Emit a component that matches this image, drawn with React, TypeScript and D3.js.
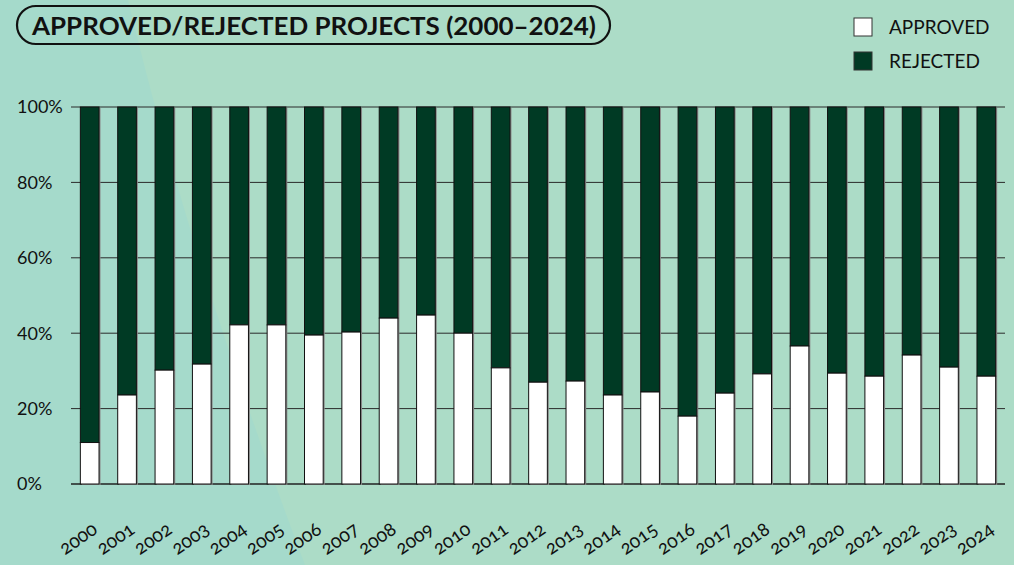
import React, { useEffect, useRef } from 'react';
import * as d3 from 'd3';

const YEARS = ['2000', '2001', '2002', '2003', '2004', '2005', '2006', '2007', '2008', '2009', '2010', '2011', '2012',
  '2013', '2014', '2015', '2016', '2017', '2018', '2019', '2020', '2021', '2022', '2023', '2024'];

// share of approved projects, %
const APPROVED = [11, 23.6, 30.2, 31.8, 42.2, 42.2, 39.5, 40.3, 44, 44.8, 40, 30.8, 27,
  27.3, 23.6, 24.4, 18, 24.1, 29.2, 36.6, 29.4, 28.6, 34.2, 31, 28.6];

const Y_TICKS = [0, 20, 40, 60, 80, 100];

const FONT = 'Lato, "Noto Sans", sans-serif';
const DARK = '#003a24';

const App: React.FC = () => {
  const svgRef = useRef<SVGSVGElement>(null);

  useEffect(() => {
    document.body.style.margin = '0';
    document.body.style.overflow = 'hidden';
    if (!svgRef.current) return;
    const width = 1014;
    const height = 565;

    const svg = d3.select(svgRef.current);
    svg.selectAll('*').remove();

    // background with a lighter sweep on the right
    svg.append('rect').attr('width', width).attr('height', height).attr('fill', '#a5dacb');
    svg.append('path')
      .attr('d', `M128,0 Q190,260 305,565 L${width},565 L${width},0 Z`)
      .attr('fill', '#acdcc7');

    const x = d3.scaleBand<string>()
      .domain(YEARS)
      .range([71, 1005])
      .paddingInner(0.5)
      .paddingOuter(0.25);

    const y = d3.scaleLinear().domain([0, 100]).range([484, 107]);

    // grid
    svg.append('g')
      .selectAll('line')
      .data(Y_TICKS)
      .enter()
      .append('line')
      .attr('x1', 71)
      .attr('x2', 1005)
      .attr('y1', (d) => y(d))
      .attr('y2', (d) => y(d))
      .attr('stroke', (d) => (d === 0 ? '#222' : '#2a2a2a'))
      .attr('stroke-width', (d) => (d === 0 ? 1.5 : 1));

    svg.append('g')
      .selectAll('text')
      .data(Y_TICKS)
      .enter()
      .append('text')
      .attr('x', 17)
      .attr('y', (d) => y(d))
      .attr('dy', '0.35em')
      .attr('font-family', FONT)
      .attr('font-size', '18px')
      .attr('fill', '#111')
      .text((d) => `${d}%`);

    const bars = svg.append('g')
      .selectAll('g')
      .data(YEARS)
      .enter()
      .append('g');

    const bw = x.bandwidth();

    // soft grey shadow on the right
    bars.append('rect')
      .attr('x', (d) => (x(d) as number) + 1.5)
      .attr('y', y(100) + 1)
      .attr('width', bw)
      .attr('height', y(0) - y(100))
      .attr('fill', '#8a8a8a');

    bars.append('rect')
      .attr('x', (d) => x(d) as number)
      .attr('y', y(100))
      .attr('width', bw)
      .attr('height', (d, i) => y(APPROVED[i]) - y(100))
      .attr('fill', DARK)
      .attr('stroke', '#111')
      .attr('stroke-width', 1);

    bars.append('rect')
      .attr('x', (d) => x(d) as number)
      .attr('y', (d, i) => y(APPROVED[i]))
      .attr('width', bw)
      .attr('height', (d, i) => y(0) - y(APPROVED[i]))
      .attr('fill', '#fff')
      .attr('stroke', '#111')
      .attr('stroke-width', 1);

    // year labels (old-style figures like the original)
    svg.append('g')
      .selectAll('text')
      .data(YEARS)
      .enter()
      .append('text')
      .attr('text-anchor', 'end')
      .attr('transform', (d) => `translate(${(x(d) as number) + bw / 2 + 9}, 532) rotate(-35)`)
      .attr('font-family', FONT)
      .attr('font-size', '19px')
      .style('font-variant-numeric', 'oldstyle-nums')
      .style('font-feature-settings', '"onum" 1')
      .attr('fill', '#111')
      .text((d) => d);

    // title pill
    svg.append('rect')
      .attr('x', 17)
      .attr('y', 6)
      .attr('width', 593)
      .attr('height', 38)
      .attr('rx', 19)
      .attr('fill', 'none')
      .attr('stroke', '#111')
      .attr('stroke-width', 2.2);

    svg.append('text')
      .attr('x', 32)
      .attr('y', 35)
      .attr('font-family', FONT)
      .attr('font-size', '25px')
      .attr('font-weight', 'bold')
      .attr('fill', '#111')
      .attr('textLength', 564)
      .attr('lengthAdjust', 'spacingAndGlyphs')
      .text('APPROVED/REJECTED PROJECTS (2000–2024)');

    // legend
    const legend = [
      { label: 'APPROVED', color: '#fff', y: 18 },
      { label: 'REJECTED', color: DARK, y: 52 },
    ];
    const lg = svg.append('g')
      .selectAll('g')
      .data(legend)
      .enter()
      .append('g');
    lg.append('rect')
      .attr('x', 854)
      .attr('y', (d) => d.y)
      .attr('width', 18)
      .attr('height', 18)
      .attr('fill', (d) => d.color)
      .attr('stroke', '#333')
      .attr('stroke-width', 1);
    lg.append('text')
      .attr('x', 889)
      .attr('y', (d) => d.y + 9)
      .attr('dy', '0.35em')
      .attr('font-family', FONT)
      .attr('font-size', '19px')
      .attr('fill', '#111')
      .text((d) => d.label);
  }, []);

  return <svg ref={svgRef} width={1014} height={565} style={{ display: 'block' }} />;
};

export default App;
